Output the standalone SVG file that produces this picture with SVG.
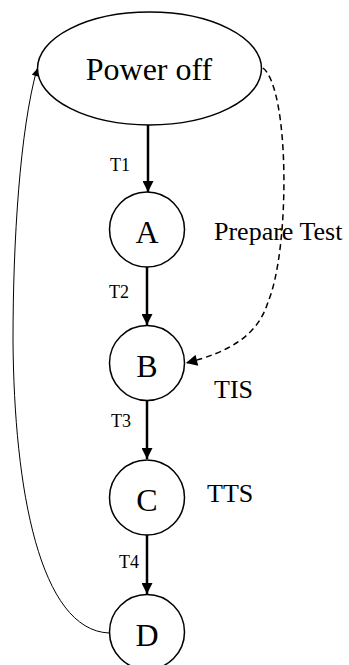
<svg xmlns="http://www.w3.org/2000/svg" width="349" height="665" viewBox="0 0 349 665">
<style>
.node{fill:#fff;stroke:#000;stroke-width:1.5}
.lbl{font-family:"Liberation Serif",serif;fill:#000}
.big{font-size:32px;text-anchor:middle}
.med{font-size:26px}
.sm{font-size:18px}
.thick{stroke:#000;stroke-width:2.5;fill:none}
</style>
<defs>
<marker id="ah" viewBox="0 0 10 10" refX="10" refY="5" markerWidth="5.6" markerHeight="4.4" orient="auto" markerUnits="strokeWidth"><path d="M0,0 L10,5 L0,10 Z" fill="#000"/></marker>
<marker id="ah2" viewBox="0 0 10 10" refX="10" refY="5" markerWidth="9" markerHeight="7.5" orient="auto" markerUnits="strokeWidth"><path d="M0,0 L10,5 L0,10 Z" fill="#000"/></marker>
<marker id="ah3" viewBox="0 0 10 10" refX="10" refY="5" markerWidth="9" markerHeight="7" orient="auto" markerUnits="strokeWidth"><path d="M0,0 L10,5 L0,10 Z" fill="#000"/></marker>
</defs>
<g id="connectors">
<line class="thick" x1="148" y1="125" x2="148" y2="192" marker-end="url(#ah)"/>
<line class="thick" x1="147" y1="267" x2="147" y2="325" marker-end="url(#ah)"/>
<line class="thick" x1="147" y1="401" x2="147" y2="459" marker-end="url(#ah)"/>
<line class="thick" x1="147" y1="535" x2="147" y2="594" marker-end="url(#ah)"/>
<path d="M263,68 C290,90 290,250 268,302 C258,335 230,352 186,363" fill="none" stroke="#000" stroke-width="1.5" stroke-dasharray="6,4" marker-end="url(#ah2)"/>
<path d="M109,633 C40,630 14,490 13,340 C13,240 20,130 37,69" fill="none" stroke="#000" stroke-width="1" marker-end="url(#ah3)"/>
<text class="lbl sm" x="110" y="171">T1</text>
<text class="lbl sm" x="109" y="298">T2</text>
<text class="lbl sm" x="111" y="427">T3</text>
<text class="lbl sm" x="119" y="568">T4</text>
<text class="lbl med" x="214" y="240">Prepare Test</text>
<text class="lbl med" x="214" y="398">TIS</text>
<text class="lbl med" x="207" y="502">TTS</text>
</g>
<g id="power-off">
<ellipse class="node" cx="149.5" cy="68.5" rx="112" ry="56.5"/>
<text class="lbl big" x="149" y="80">Power off</text>
</g>
<g id="node-A">
<circle class="node" cx="147" cy="229.5" r="37.5"/>
<text class="lbl big" x="147" y="243">A</text>
</g>
<g id="node-B">
<circle class="node" cx="147" cy="363" r="37.5"/>
<text class="lbl big" x="147" y="377">B</text>
</g>
<g id="node-C">
<circle class="node" cx="147" cy="497.5" r="37.5"/>
<text class="lbl big" x="147" y="511">C</text>
</g>
<g id="node-D">
<circle class="node" cx="147" cy="632" r="37.5"/>
<text class="lbl big" x="147" y="646">D</text>
</g>
</svg>
